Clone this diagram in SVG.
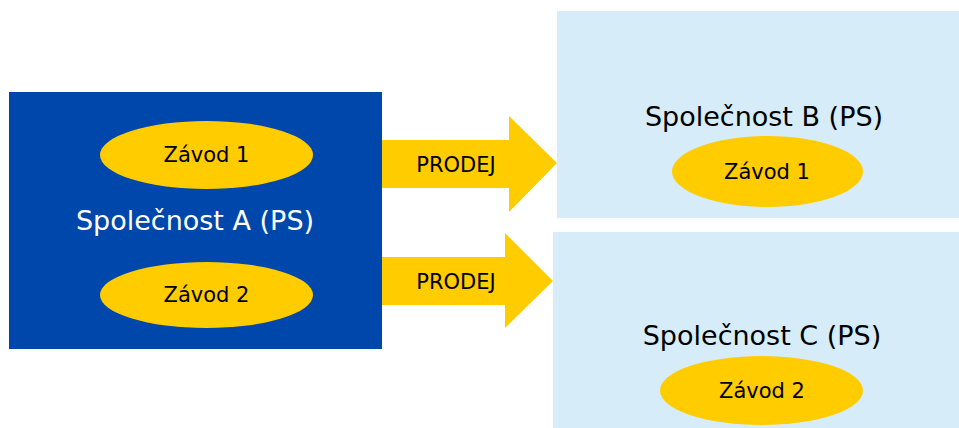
<svg xmlns="http://www.w3.org/2000/svg" width="959" height="428" viewBox="0 0 959 428">
<style>
text{font-family:"DejaVu Sans",Verdana,sans-serif;text-anchor:middle}
.lbl{font-size:27px}
.sm{font-size:21px;fill:#000}
.ell{fill:#FFCC00}
.arrow{fill:#FFCC00}
</style>
<rect width="959" height="428" fill="#fff"/>
<g id="companyA">
<rect x="9" y="92" width="373" height="257" fill="#0047AB"/>
<text class="lbl" x="195" y="230" fill="#fff">Společnost A (PS)</text>
</g>
<g id="plantA1">
<ellipse class="ell" cx="206.5" cy="155" rx="106.5" ry="34"/>
<text class="sm" x="206.5" y="162">Závod 1</text>
</g>
<g id="plantA2">
<ellipse class="ell" cx="206.5" cy="295" rx="106.5" ry="33"/>
<text class="sm" x="206.5" y="302">Závod 2</text>
</g>
<g id="companyB">
<rect x="557" y="11" width="402" height="207" fill="#D6EDF9"/>
<text class="lbl" x="764" y="126" fill="#000">Společnost B (PS)</text>
</g>
<g id="plantB1">
<ellipse class="ell" cx="767.5" cy="171.5" rx="95.5" ry="35.5"/>
<text class="sm" x="767" y="179">Závod 1</text>
</g>
<g id="companyC">
<rect x="553" y="232" width="406" height="196" fill="#D6EDF9"/>
<text class="lbl" x="762" y="345" fill="#000">Společnost C (PS)</text>
</g>
<g id="plantC2">
<ellipse class="ell" cx="761.5" cy="390.5" rx="101.5" ry="34.5"/>
<text class="sm" x="762" y="398">Závod 2</text>
</g>
<g id="connectors">
<g id="arrow1">
<polygon class="arrow" points="382,140 509,140 509,116 557,163 509,212 509,188 382,188"/>
<text class="sm" x="456" y="172">PRODEJ</text>
</g>
<g id="arrow2">
<polygon class="arrow" points="382,257 505,257 505,233 553,281 505,328 505,305 382,305"/>
<text class="sm" x="456" y="289">PRODEJ</text>
</g>
</g>
</svg>
